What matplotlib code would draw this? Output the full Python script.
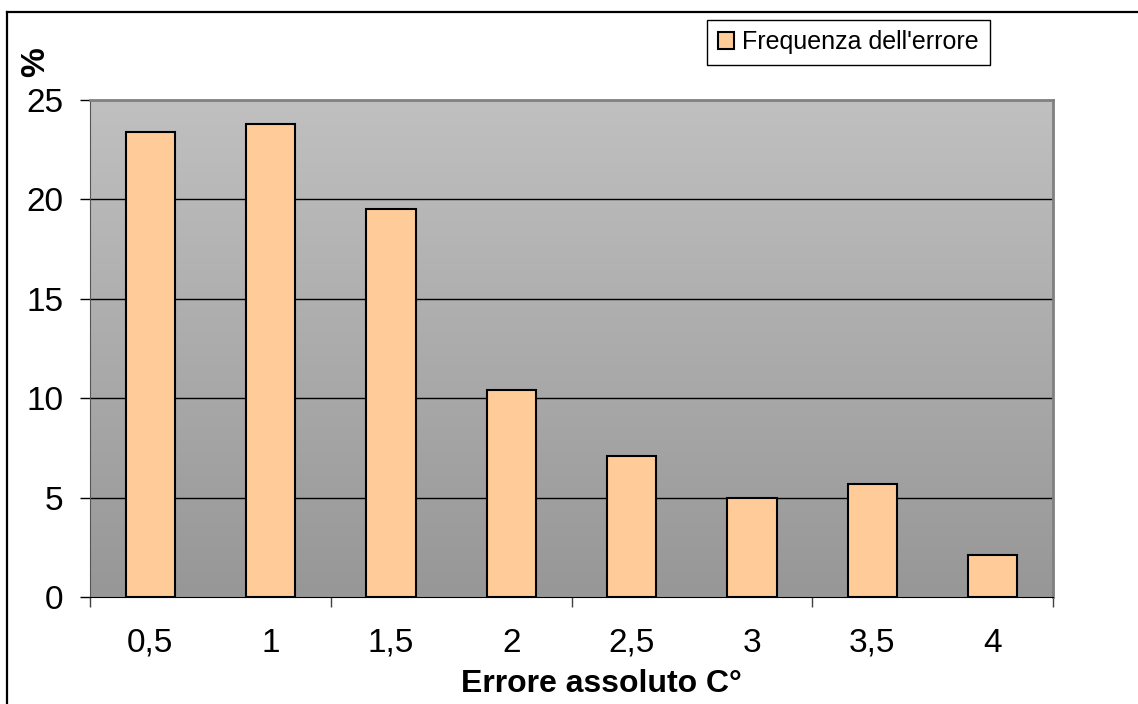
import matplotlib
matplotlib.use("Agg")
import matplotlib.pyplot as plt
from matplotlib.lines import Line2D
import numpy as np

# errore assoluto (°C) e frequenza in %
categories = ['0,5', '1', '1,5', '2', '2,5', '3', '3,5', '4']
frequenza = [23.4, 23.8, 19.5, 10.4, 7.1, 5.0, 5.7, 2.1]
yticks = [0, 5, 10, 15, 20, 25]

plt.rcParams['font.family'] = ['Liberation Sans', 'DejaVu Sans']

fig = plt.figure(figsize=(11.38, 7.04), dpi=100)
fig.patch.set_facecolor('white')
ax = fig.add_axes([90/1138, 1 - 597/704, 963/1138, 497/704])

# gradient background for the plot area
grad = np.linspace(0, 1, 256).reshape(-1, 1)
cmap = matplotlib.colors.LinearSegmentedColormap.from_list('bg', ['#c0c0c0', '#979797'])
ax.imshow(grad, cmap=cmap, aspect='auto', extent=[0, 1, 0, 1],
          transform=ax.transAxes, zorder=0)

x = np.arange(len(categories))
ax.bar(x, frequenza, width=0.41, color='#FFCC99', edgecolor='black',
       linewidth=1.5, zorder=3, label="Frequenza dell'errore")

ax.set_xlim(-0.5, len(categories) - 0.5)
ax.set_ylim(0, 25)
ax.set_yticks(yticks)
ax.tick_params(axis='y', direction='out', length=7, width=1, pad=12,
               labelsize=24, colors='black')
for yv in yticks[1:-1]:
    ax.axhline(yv, color='black', lw=1, zorder=1)

# tick marks every two categories, labels under each bar
ax.set_xticks(np.arange(-0.5, len(categories), 2))
ax.set_xticklabels([])
ax.tick_params(axis='x', which='major', direction='out', length=7, width=1,
               color='#404040')
ax.set_xticks(x, minor=True)
ax.set_xticklabels(categories, minor=True)
ax.tick_params(axis='x', which='minor', length=0, pad=22, labelsize=24)

for s in ['top', 'right']:
    ax.spines[s].set_color('#808080')
    ax.spines[s].set_linewidth(2)
ax.spines['left'].set_color('#555555')
ax.spines['bottom'].set_color('black')

ax.set_xlabel('Errore assoluto C°', fontsize=23, fontweight='bold')
ax.xaxis.set_label_coords(0.531, -0.145)
fig.text(36/1138, 1 - 62/704, '%', rotation=90, fontsize=24,
         fontweight='bold', ha='center', va='center')

fig.legend(loc='upper left', bbox_to_anchor=(707/1138, 1 - 20/704),
           fontsize=18, frameon=True, fancybox=False, edgecolor='black',
           framealpha=1, handlelength=0.65, handleheight=0.65,
           handletextpad=0.35, borderpad=0.42, borderaxespad=0)

# outer chart border (only left and top are visible)
fig.add_artist(Line2D([7/1138, 7/1138], [0, 1 - 12/704], color='black', lw=1.6))
fig.add_artist(Line2D([7/1138, 1], [1 - 12/704, 1 - 12/704], color='black', lw=1.6))

fig.savefig('out.png', dpi=100)
